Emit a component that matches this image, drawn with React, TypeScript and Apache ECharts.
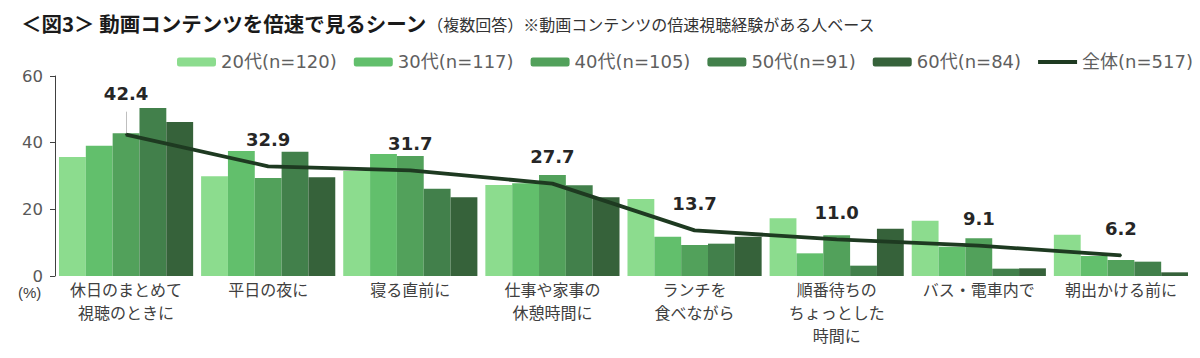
import React, { useEffect, useRef } from "react";
import * as echarts from "echarts";

const categories = [
  "休日のまとめて\n視聴のときに",
  "平日の夜に",
  "寝る直前に",
  "仕事や家事の\n休憩時間に",
  "ランチを\n食べながら",
  "順番待ちの\nちょっとした\n時間に",
  "バス・電車内で",
  "朝出かける前に",
];
const seriesNames = ["20代(n=120)", "30代(n=117)", "40代(n=105)", "50代(n=91)", "60代(n=84)"];
const age20 = [35.7, 29.9, 31.5, 27.3, 23.1, 17.3, 16.6, 12.4];
const age30 = [39.1, 37.5, 36.6, 27.8, 11.8, 6.8, 8.8, 6.0];
const age40 = [42.8, 29.4, 36.0, 30.3, 9.3, 12.2, 11.3, 4.8];
const age50 = [50.4, 37.3, 26.2, 27.2, 9.7, 3.1, 2.2, 4.3];
const age60 = [46.2, 29.6, 23.6, 23.6, 11.8, 14.2, 2.3, 1.1];
const totalName = "全体(n=517)";
const total = [42.4, 32.9, 31.7, 27.7, 13.7, 11.0, 9.1, 6.2];
const yTicks = { min: 0, max: 60, interval: 20 };

const barColors = ["#8CDC8E", "#62BF6C", "#52A15B", "#42804B", "#36623A"];
const lineColor = "#1E3A21";

export default function App() {
  const ref = useRef<HTMLDivElement>(null);
  useEffect(() => {
    if (!ref.current) return;
    const chart = echarts.init(ref.current, null, { renderer: "svg" });
    const barData = [age20, age30, age40, age50, age60];
    const bars = barData.map((d, i) => ({
      name: seriesNames[i],
      type: "bar",
      data: d,
      barGap: "0%",
      barCategoryGap: "5.6%",
      itemStyle: { color: barColors[i] },
      z: 2,
    }));
    chart.setOption({
      animation: false,
      textStyle: { fontFamily: "'Noto Sans CJK JP', sans-serif" },
      title: {
        left: 16,
        top: 8,
        text:
          "{a|＜図3＞ 動画コンテンツを倍速で見るシーン}{b|（複数回答）}{c|※動画コンテンツの倍速視聴経験がある人ベース}",
        textStyle: {
          fontWeight: "normal",
          rich: {
            a: { fontSize: 20.5, fontWeight: "bold", color: "#1a1a1a", fontFamily: "'Noto Sans CJK JP'" },
            b: { fontSize: 16, fontWeight: "normal", color: "#333333", fontFamily: "'Noto Sans CJK JP'", padding: [2, 0, 0, 0] },
            c: { fontSize: 16, fontWeight: "normal", color: "#333333", fontFamily: "'Noto Sans CJK JP'", padding: [2, 0, 0, 0] },
          },
        },
      },
      legend: {
        left: 177,
        top: 53,
        padding: 0,
        itemWidth: 39,
        itemHeight: 9,
        itemGap: 17,
        data: [
          ...seriesNames,
          { name: totalName, icon: "path://M0 0H40V4H0Z", itemStyle: { color: lineColor } },
        ],
        textStyle: { fontSize: 18, color: "#5f5f5f", fontFamily: "'DejaVu Sans', 'Noto Sans CJK JP'" },
      },
      grid: { left: 55, right: 8, top: 76, bottom: 82 },
      xAxis: {
        type: "category",
        data: categories,
        axisLine: { show: false },
        axisTick: { show: false },
        axisLabel: {
          interval: 0,
          fontSize: 16,
          lineHeight: 23,
          margin: 1,
          color: "#404040",
          fontFamily: "'Noto Sans CJK JP'",
        },
      },
      yAxis: {
        type: "value",
        min: yTicks.min,
        max: yTicks.max,
        interval: yTicks.interval,
        splitLine: { show: false },
        axisLine: { show: true, lineStyle: { color: "#404040", width: 1 } },
        axisTick: { show: true, length: 5, lineStyle: { color: "#404040" } },
        axisLabel: { fontSize: 16.5, color: "#595959", margin: 12, fontFamily: "'DejaVu Sans'" },
      },
      graphic: [
        {
          type: "text",
          left: 18,
          top: 285,
          style: { text: "(%)", fontSize: 15, fill: "#404040", font: "15px 'DejaVu Sans'" },
        },
      ],
      series: [
        ...bars,
        {
          name: totalName,
          type: "line",
          data: total.map((v, i) => ({
            value: v,
            label: { distance: i === 0 ? 31 : 17 },
          })),
          symbol: "circle",
          symbolSize: 2,
          showSymbol: true,
          z: 5,
          lineStyle: { color: lineColor, width: 3.8 },
          itemStyle: { color: lineColor },
          label: {
            show: true,
            position: "top",
            fontSize: 18,
            fontWeight: "bold",
            color: "#262626",
            fontFamily: "'DejaVu Sans'",
            formatter: (p: any) => Number(p.value).toFixed(1),
          },
          markLine: {
            silent: true,
            symbol: ["none", "none"],
            label: { show: false },
            lineStyle: { color: "#bfbfbf", width: 1, type: "solid" },
            data: [[{ coord: [0, total[0]] }, { coord: [0, 49.3] }]],
          },
        },
      ],
    });
    return () => chart.dispose();
  }, []);
  return (
    <div
      ref={ref}
      style={{ position: "fixed", left: 0, top: 0, width: 1200, height: 358, background: "#fff" }}
    />
  );
}
